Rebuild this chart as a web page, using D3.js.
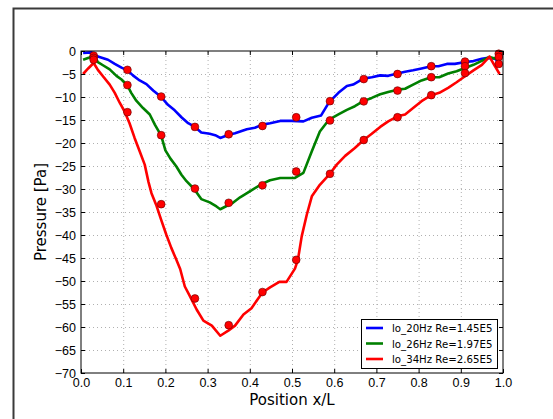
<!DOCTYPE html>
<html>
<head>
<meta charset="utf-8">
<script src="https://cdn.jsdelivr.net/npm/d3@7"></script>
<style>
  body { margin: 0; background: #fff; }
  svg { font-family: "DejaVu Sans", sans-serif; }
  .grid line { stroke: #b0b0b0; stroke-dasharray: 1,3; }
  .grid path { display: none; }
</style>
</head>
<body>
<div id="chart"></div>
<script>
// probe positions along x/L
const dotX = [0.03, 0.11, 0.19, 0.27, 0.35, 0.43, 0.51, 0.59, 0.67, 0.75, 0.83, 0.91, 0.99]
const dotBlue = [-1.0, -4.1, -9.9, -16.5, -18.1, -16.3, -14.4, -10.9, -6.1, -5.0, -3.3, -2.3, -0.6]
const dotGreen = [-1.5, -7.4, -18.3, -29.9, -33.0, -29.2, -26.2, -15.1, -10.95, -8.6, -5.7, -3.3, -1.3]
const dotRed = [-1.9, -13.3, -33.3, -53.8, -59.6, -52.4, -45.4, -26.7, -19.35, -14.4, -9.6, -4.8, -2.8]

// pressure profiles
const blueX = [0.005, 0.025, 0.04, 0.064, 0.08, 0.096, 0.11, 0.123, 0.139, 0.155, 0.171, 0.19, 0.206, 0.222, 0.238, 0.254, 0.27, 0.285, 0.305, 0.318, 0.33, 0.35, 0.365, 0.393, 0.412, 0.43, 0.448, 0.472, 0.499, 0.527, 0.547, 0.569, 0.588, 0.61, 0.63, 0.645, 0.669, 0.689, 0.709, 0.728, 0.75, 0.768, 0.787, 0.807, 0.83, 0.847, 0.867, 0.886, 0.911, 0.93, 0.95, 0.965, 0.981, 0.995]
const blueP = [-0.4, -0.3, -1.2, -1.9, -2.8, -3.6, -4.2, -5.3, -6.4, -7.2, -8.6, -10.0, -11.7, -12.9, -14.4, -15.7, -16.5, -17.7, -18.0, -18.3, -18.9, -18.2, -17.9, -17.0, -16.7, -16.0, -15.7, -15.2, -15.2, -15.3, -14.5, -14.0, -11.1, -9.1, -7.6, -7.3, -6.0, -5.7, -5.3, -5.4, -4.9, -4.5, -4.2, -3.8, -3.3, -3.3, -2.8, -2.8, -2.4, -2.2, -1.7, -1.5, -1.7, -2.6]

const greenX = [0.005, 0.02, 0.03, 0.04, 0.052, 0.068, 0.084, 0.096, 0.11, 0.119, 0.131, 0.147, 0.163, 0.175, 0.19, 0.2, 0.212, 0.226, 0.238, 0.25, 0.268, 0.285, 0.305, 0.321, 0.33, 0.345, 0.36, 0.377, 0.4, 0.429, 0.448, 0.472, 0.507, 0.527, 0.547, 0.566, 0.588, 0.61, 0.63, 0.649, 0.669, 0.689, 0.709, 0.728, 0.75, 0.768, 0.787, 0.807, 0.83, 0.849, 0.87, 0.89, 0.91, 0.93, 0.946, 0.968, 0.995]
const greenP = [-1.9, -1.4, -1.0, -2.4, -3.1, -4.0, -5.4, -6.2, -7.5, -9.1, -10.8, -12.4, -13.8, -16.0, -18.4, -21.6, -23.4, -25.1, -26.9, -28.3, -30.0, -32.2, -32.9, -33.8, -34.4, -33.7, -33.0, -31.8, -30.5, -28.9, -28.1, -27.6, -27.6, -26.5, -21.8, -17.5, -14.9, -13.8, -12.8, -12.0, -10.9, -10.2, -9.4, -8.9, -8.4, -8.2, -7.3, -6.4, -5.7, -5.7, -4.9, -4.4, -3.7, -3.0, -2.3, -1.3, -2.0]

const redX = [0.005, 0.017, 0.03, 0.04, 0.052, 0.068, 0.08, 0.092, 0.103, 0.115, 0.127, 0.139, 0.151, 0.16, 0.167, 0.178, 0.19, 0.202, 0.214, 0.226, 0.235, 0.246, 0.258, 0.274, 0.29, 0.31, 0.33, 0.349, 0.365, 0.385, 0.404, 0.43, 0.448, 0.47, 0.487, 0.507, 0.514, 0.523, 0.535, 0.547, 0.566, 0.588, 0.606, 0.626, 0.649, 0.669, 0.689, 0.709, 0.728, 0.75, 0.768, 0.787, 0.807, 0.83, 0.849, 0.87, 0.89, 0.91, 0.93, 0.95, 0.968, 0.979, 0.992]
const redP = [-5.0, -3.8, -2.6, -4.1, -5.5, -7.3, -9.1, -11.3, -13.1, -15.7, -18.9, -21.8, -24.7, -28.5, -30.9, -33.4, -36.7, -39.9, -42.8, -45.4, -47.4, -51.2, -53.3, -56.2, -58.6, -59.7, -61.9, -60.8, -59.7, -57.3, -55.9, -52.5, -51.4, -50.2, -50.2, -47.3, -45.4, -40.3, -35.6, -31.6, -29.1, -26.9, -24.7, -22.8, -21.1, -19.4, -18.0, -16.5, -15.3, -14.2, -13.8, -12.4, -10.9, -9.6, -9.1, -8.0, -6.8, -5.5, -4.2, -3.0, -1.2, -3.0, -5.0]

const seriesNames = ['lo_20Hz Re=1.45E5', 'lo_26Hz Re=1.97E5', 'lo_34Hz Re=2.65E5']
const seriesColors = ['#0000ff', '#008000', '#ff0000']
const xTicks = [0, 0.1, 0.2, 0.3, 0.4, 0.5, 0.6, 0.7, 0.8, 0.9, 1.0]
const yTicks = [0, -5, -10, -15, -20, -25, -30, -35, -40, -45, -50, -55, -60, -65, -70]

const w = 553
const h = 419
const padL = 81, padR = 503, padT = 51, padB = 373

const xScale = d3.scaleLinear().domain([0, 1]).range([padL, padR])
const yScale = d3.scaleLinear().domain([-70, 0]).range([padB, padT])

const svg = d3.select('#chart')
    .append('svg')
    .attr('width', w)
    .attr('height', h)

// figure frame
svg.append('rect')
    .attr('x', 13.5)
    .attr('y', 8.5)
    .attr('width', 700)
    .attr('height', 600)
    .attr('fill', 'none')
    .attr('stroke', '#3a3a3a')
    .attr('stroke-width', 2)

// grid
svg.append('g')
    .attr('class', 'grid')
    .attr('transform', 'translate(0,' + padB + ')')
    .call(d3.axisBottom(xScale).tickValues(xTicks.slice(1, -1)).tickSize(-(padB - padT)).tickFormat(''))
svg.append('g')
    .attr('class', 'grid')
    .attr('transform', 'translate(' + padL + ',0)')
    .call(d3.axisLeft(yScale).tickValues(yTicks.slice(1, -1)).tickSize(-(padR - padL)).tickFormat(''))

const lines = [
    [blueX, blueP],
    [greenX, greenP],
    [redX, redP]
]
const line = d3.line()
    .x(d => xScale(d[0]))
    .y(d => yScale(d[1]))

lines.forEach((s, i) => {
    svg.append('path')
        .datum(s[0].map((x, j) => [x, s[1][j]]))
        .attr('d', line)
        .attr('fill', 'none')
        .attr('stroke', seriesColors[i])
        .attr('stroke-width', 2.6)
        .attr('stroke-linejoin', 'round')
})

// measured points
const dots = []
;[dotBlue, dotGreen, dotRed].forEach(vals => {
    vals.forEach((v, j) => dots.push([dotX[j], v]))
})
svg.selectAll('circle.dot')
    .data(dots)
    .enter()
    .append('circle')
    .attr('class', 'dot')
    .attr('cx', d => xScale(d[0]))
    .attr('cy', d => yScale(d[1]))
    .attr('r', 3.9)
    .attr('fill', '#ff0000')
    .attr('stroke', '#600000')
    .attr('stroke-width', 0.6)

// axes, ticks pointing inward on every side
const styleAxis = g => {
    g.select('.domain').remove()
    g.selectAll('text').attr('font-size', 12.5).attr('fill', '#000')
    g.selectAll('line').attr('stroke', '#000')
}
svg.append('g')
    .attr('transform', 'translate(0,' + padB + ')')
    .call(d3.axisBottom(xScale).tickValues(xTicks).tickSize(-4).tickPadding(5).tickFormat(d3.format('.1f')))
    .call(styleAxis)
svg.append('g')
    .attr('transform', 'translate(0,' + padT + ')')
    .call(d3.axisTop(xScale).tickValues(xTicks).tickSize(-4).tickFormat(''))
    .call(styleAxis)
svg.append('g')
    .attr('transform', 'translate(' + padL + ',0)')
    .call(d3.axisLeft(yScale).tickValues(yTicks).tickSize(-4).tickPadding(5))
    .call(styleAxis)
svg.append('g')
    .attr('transform', 'translate(' + padR + ',0)')
    .call(d3.axisRight(yScale).tickValues(yTicks).tickSize(-4).tickFormat(''))
    .call(styleAxis)

svg.append('rect')
    .attr('x', padL)
    .attr('y', padT)
    .attr('width', padR - padL)
    .attr('height', padB - padT)
    .attr('fill', 'none')
    .attr('stroke', '#000')
    .attr('stroke-width', 1)

svg.append('text')
    .text('Position x/L')
    .attr('x', (padL + padR) / 2)
    .attr('y', 405)
    .attr('text-anchor', 'middle')
    .attr('font-size', 15)

svg.append('text')
    .text('Pressure [Pa]')
    .attr('transform', 'translate(46,' + ((padT + padB) / 2) + ') rotate(-90)')
    .attr('text-anchor', 'middle')
    .attr('font-size', 15)

// legend
const legend = svg.append('g')
legend.append('rect')
    .attr('x', 361.5)
    .attr('y', 319.5)
    .attr('width', 136)
    .attr('height', 49)
    .attr('fill', '#fff')
    .attr('stroke', '#000')
seriesNames.forEach((name, i) => {
    const ly = 328 + i * 15.5
    legend.append('line')
        .attr('x1', 366).attr('x2', 383)
        .attr('y1', ly).attr('y2', ly)
        .attr('stroke', seriesColors[i])
        .attr('stroke-width', 2.6)
    legend.append('text')
        .text(name)
        .attr('x', 392)
        .attr('y', ly + 4)
        .attr('font-size', 10.2)
})
</script>
</body>
</html>
